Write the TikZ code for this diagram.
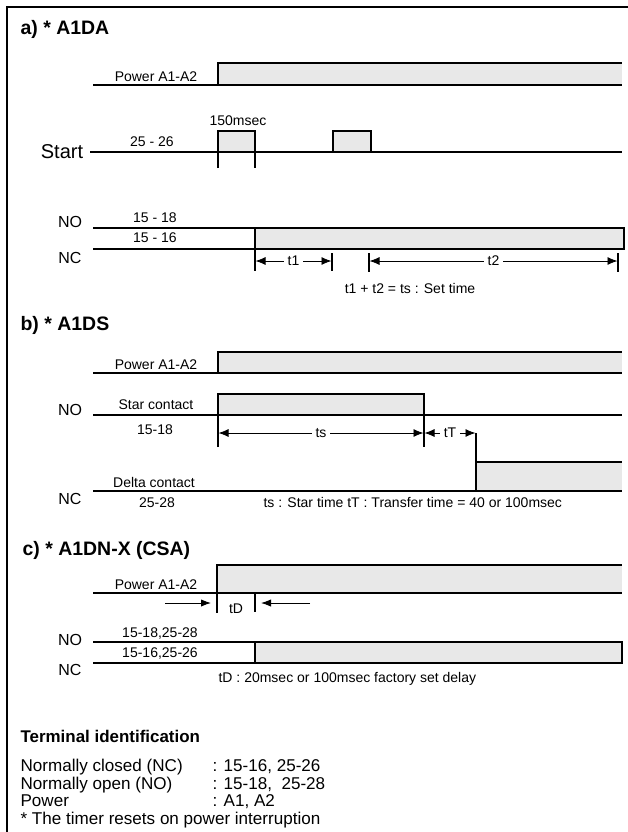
\documentclass[tikz,border=0pt]{standalone}
\usepackage{fontspec}
\setmainfont{Liberation Sans}
\usetikzlibrary{arrows.meta, positioning}

\begin{document}
\begin{tikzpicture}[
		x=0.75pt, y=-0.75pt,
		line width=0.9pt,
		every node/.style={
				inner sep=0pt,
				font=\fontsize{10.5}{12}\selectfont
			},
		sectitle/.style={anchor=west, font=\bfseries\fontsize{14.6}{17}\selectfont},
		signame/.style={font=\fontsize{12}{14}\selectfont}, % NO / NC
		hifill/.style={fill=gray!18},
		dimline/.style={line width=0.6pt, {Latex[length=7.5pt,width=6pt]}-{Latex[length=7.5pt,width=6pt]}},
		tdarrow/.style={line width=0.7pt, -{Latex[length=7.5pt,width=5.5pt]}},
		midlabel/.style={fill=white, inner xsep=2.5pt, inner ysep=1pt},
		terminfo/.style={anchor=base west, font=\fontsize{12.8}{15}\selectfont}
	]
	\useasboundingbox (0,0) rectangle (628,832);
	\draw (628,7) -- (7,7) -- (7,832);

	% a) A1DA
	\node[sectitle] (ta) at (20,29) {a) * A1DA};
	\node[anchor=base] (pwa) at (156,81) {Power A1-A2};
	\fill[hifill] (218,63) rectangle (622,85);
	\draw (93,85) -- (622,85);
	\draw (218,85) -- (218,63) -- (622,63);

	\node[anchor=base] (ms) at (238,125) {150msec};
	\node[font=\fontsize{15}{18}\selectfont] (st) at (62,152) {Start};
	\node[anchor=base] (sa) at (152,146) {25 - 26};
	\fill[hifill] (218,131) rectangle (255,152);
	\fill[hifill] (333,131) rectangle (371,152);
	\draw (90,152) -- (622,152);
	\draw (218,168) -- (218,131) -- (255,131) -- (255,168);
	\draw (333,152) -- (333,131) -- (371,131) -- (371,152);

	\node[signame] (noa) at (70,222) {NO};
	\node[signame] (nca) at (70,258) {NC};
	\node[anchor=base] (ka) at (155,222) {15 - 18};
	\node[anchor=base] (kb) at (155,242) {15 - 16};
	\draw (93,228) -- (255,228);
	\draw (93,249) -- (255,249);
	\draw[hifill] (255,228) rectangle (624,249);
	\draw (255,249) -- (255,271) (332,253) -- (332,271) (369,253) -- (369,272) (618,253) -- (618,272);
	\draw[dimline] (255.5,261) -- node[midlabel] (t1) {t1} (331.5,261);
	\draw[dimline] (369.5,261) -- node[midlabel] (t2) {t2} (617.5,261);
	\node (seta) at (410,288) {t1 + t2 = ts : Set time};

	% b) A1DS
	\node[sectitle] (tb) at (20,325) {b) * A1DS};
	\node[anchor=base] (pwb) at (156,369) {Power A1-A2};
	\fill[hifill] (218,352) rectangle (622,373);
	\draw (93,373) -- (622,373);
	\draw (218,373) -- (218,352) -- (622,352);

	\node[signame] (nob) at (70,410) {NO};
	\node[anchor=base] (star) at (156,409) {Star contact};
	\fill[hifill] (218,394) rectangle (424,415);
	\draw (93,415) -- (622,415);
	\draw (218,447) -- (218,394) -- (424,394) -- (424,447);
	\node[anchor=base] (kc) at (155,434) {15-18};
	\draw[dimline] (218.5,433) -- node[midlabel] (ts) {ts} (423.5,433);
	\draw[dimline] (424.5,433) -- node[midlabel] (tt) {tT} (475.5,433);

	\fill[hifill] (476,462) rectangle (622,491);
	\draw (476,433) -- (476,491);
	\draw (476,462) -- (622,462);
	\draw (93,491) -- (622,491);
	\node[anchor=base] (delta) at (154,487) {Delta contact};
	\node[signame] (ncb) at (70,499) {NC};
	\node[anchor=base] (kd) at (157,507) {25-28};
	\node[anchor=base west] (setb) at (263,507) {ts : Star time tT : Transfer time = 40 or 100msec};

	% c) A1DN-X
	\node[sectitle] (tc) at (22,550) {c) * A1DN-X (CSA)};
	\node[anchor=base] (pwc) at (156,589) {Power A1-A2};
	\fill[hifill] (217,565) rectangle (622,593);
	\draw (93,593) -- (622,593);
	\draw (217,593) -- (217,565) -- (622,565);
	\draw (217,593) -- (217,613);
	\draw (255,593) -- (255,612);
	\draw[tdarrow] (165,603) -- (211,603);
	\draw[tdarrow] (310,603) -- (261,603);
	\node (td) at (236,609) {tD};

	\node[signame] (noc) at (70,640) {NO};
	\node[signame] (ncc) at (70,670) {NC};
	\node[anchor=base] (ke) at (160,637) {15-18,25-28};
	\node[anchor=base] (kf) at (160,657) {15-16,25-26};
	\draw (93,642) -- (255,642);
	\draw (93,663) -- (255,663);
	\draw[hifill] (255,642) rectangle (622,663);
	\node[anchor=base west] (setc) at (218,682) {tD : 20msec or 100msec factory set delay};

	% terminal identification
	\node[anchor=base west, font=\bfseries\fontsize{12.7}{15}\selectfont] (term) at (20,742) {Terminal identification};
	\node[terminfo] (r1) at (20,771) {Normally closed (NC)};
	\node[terminfo] (v1) at (212,771) {: 15-16, 25-26};
	\node[terminfo] (r2) at (20,789) {Normally open (NO)};
	\node[terminfo] (v2) at (212,789) {: 15-18,\ \ 25-28};
	\node[terminfo] (r3) at (20,806) {Power};
	\node[terminfo] (v3) at (212,806) {: A1, A2};
	\node[terminfo] (r4) at (20,824) {* The timer resets on power interruption};
\end{tikzpicture}
\end{document}
